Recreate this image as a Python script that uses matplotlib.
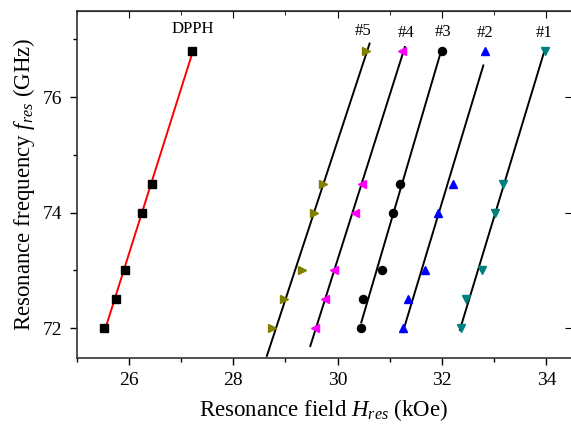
import numpy as np
import matplotlib
matplotlib.use('Agg')
import matplotlib.pyplot as plt
from matplotlib.ticker import MultipleLocator

plt.rcParams['font.family'] = ['Liberation Serif', 'DejaVu Serif']
plt.rcParams['mathtext.fontset'] = 'custom'
plt.rcParams['mathtext.it'] = 'Liberation Serif:italic'
plt.rcParams['mathtext.rm'] = 'Liberation Serif'

# resonance frequencies (GHz)
freq = [72, 72.5, 73, 74, 74.5, 76.8]

# resonance fields (kOe)
h_dpph = [25.52, 25.75, 25.92, 26.25, 26.44, 27.22]
h_s5 = [28.75, 28.98, 29.31, 29.54, 29.72, 30.55]
h_s4 = [29.56, 29.75, 29.94, 30.33, 30.47, 31.24]
h_s3 = [30.45, 30.48, 30.85, 31.07, 31.20, 31.99]
h_s2 = [31.26, 31.34, 31.68, 31.93, 32.21, 32.82]
h_s1 = [32.36, 32.46, 32.77, 33.01, 33.16, 33.97]

names = ['DPPH', '#5', '#4', '#3', '#2', '#1']
fields = [h_dpph, h_s5, h_s4, h_s3, h_s2, h_s1]
markers = ['s', '>', '<', 'o', '^', 'v']
colors = ['black', '#808000', '#ff00ff', 'black', '#0000ff', '#007f7f']
line_colors = ['red', 'black', 'black', 'black', 'black', 'black']
# frequency span of each linear fit line
fit_span = [(72.0, 76.8), (71.52, 76.93), (71.69, 76.87), (72.1, 76.75), (71.93, 76.55), (71.97, 76.78)]
# label positions (field, frequency)
label_pos = [(27.22, 77.18), (30.49, 77.14), (31.32, 77.11), (32.02, 77.13), (32.83, 77.11), (33.95, 77.12)]

fig = plt.figure(figsize=(5.71, 4.30), dpi=100)
ax = fig.add_axes([0.134, 0.167, 0.866, 0.807])

for name, h, m, c, lc, span, pos in zip(names, fields, markers, colors, line_colors, fit_span, label_pos):
    k, b = np.polyfit(freq, h, 1)
    fy = np.array(span)
    ax.plot(k * fy + b, fy, color=lc, lw=1.4, zorder=2)
    ax.plot(h, freq, linestyle='none', marker=m, color=c, markersize=5.8, zorder=3)
    ax.text(pos[0], pos[1], name, ha='center', va='center', fontsize=12)

ax.set_xlim(25.0, 34.47)
ax.set_ylim(71.48, 77.49)
ax.xaxis.set_major_locator(MultipleLocator(2))
ax.xaxis.set_minor_locator(MultipleLocator(1))
ax.yaxis.set_major_locator(MultipleLocator(2))
ax.yaxis.set_minor_locator(MultipleLocator(1))
ax.tick_params(which='both', direction='out', labelsize=14, width=1, pad=5)
ax.tick_params(which='major', length=5)
ax.tick_params(which='minor', length=3)

# inward ticks on top and right
top = ax.secondary_xaxis('top')
top.xaxis.set_major_locator(MultipleLocator(2))
top.xaxis.set_minor_locator(MultipleLocator(1))
top.tick_params(which='major', direction='in', length=5, labeltop=False)
top.tick_params(which='minor', direction='in', length=3)
right = ax.secondary_yaxis('right')
right.yaxis.set_major_locator(MultipleLocator(2))
right.tick_params(direction='in', length=4, labelright=False)
right.spines['right'].set_visible(False)
ax.spines['right'].set_visible(False)
for s in ['left', 'bottom', 'top']:
    ax.spines[s].set_linewidth(1.2)
    ax.spines[s].set_color('#333333')

ax.set_xlabel('Resonance field $H_{res}$ (kOe)', fontsize=16.5, labelpad=6)
ax.set_ylabel('Resonance frequency $f_{res}$ (GHz)', fontsize=16.5)

fig.savefig('out.png', dpi=100)
